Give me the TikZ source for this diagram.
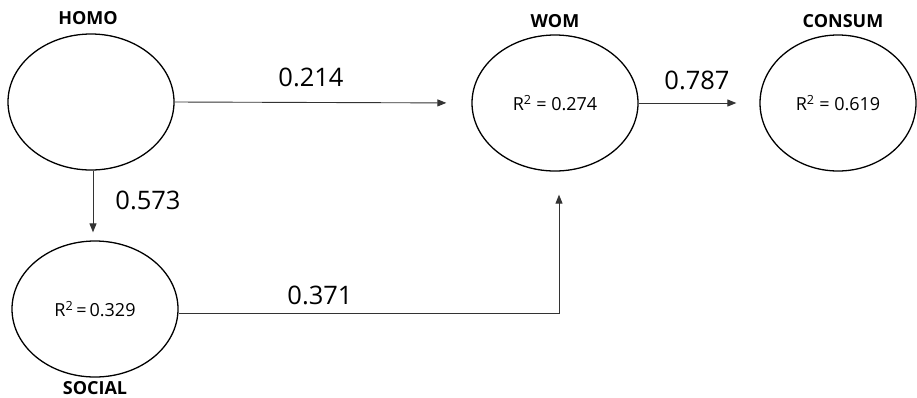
\documentclass[tikz,border=0pt]{standalone}
\usepackage{fontspec}
\setmainfont{Open Sans}
\usetikzlibrary{arrows.meta,shapes.geometric}
\begin{document}
\begin{tikzpicture}[x=1pt,y=-1pt,
  latent/.style={ellipse,draw,line width=1.3pt,minimum width=166pt,minimum height=136pt,inner sep=0pt,font=\fontsize{18}{20}\selectfont},
  title/.style={font=\fontsize{18}{20}\bfseries\selectfont},
  coef/.style={font=\fontsize{25.5}{28}\selectfont},
  path/.style={draw=black!80,line width=0.9pt,-{Triangle[length=9pt,width=7pt]}}]
\useasboundingbox (0,0) rectangle (917,397);
% latent variables
\node[latent] (homo)   at (91,102)  {};
\node[latent] (social) at (95,309)  {R\textsuperscript{2}\,=\,0.329};
\node[latent] (wom)    at (555,103) {R\textsuperscript{2} = 0.274};
\node[latent,minimum width=156pt] (consum) at (838,103) {R\textsuperscript{2} = 0.619};
% variable names
\node[title] (homoT)   at (88,18)  {HOMO};
\node[title] (socialT) at (95,388) {SOCIAL};
\node[title] (womT)    at (555,21) {WOM};
\node[title] (consumT) at (843,21) {CONSUM};
% structural paths
\draw[path,shorten >=25pt] (homo.east) -- (wom.west);
\draw[path,shorten >=8pt] ([xshift=2pt]homo.south) -- ([xshift=-2pt]social.north);
\draw[path,shorten >=23pt] ([yshift=-4pt]social.east) -| ([xshift=4pt]wom.south);
\draw[path,shorten >=23pt] (wom.east) -- (consum.west);
% path coefficients
\node[coef] (c1) at (311,77)  {0.214};
\node[coef] (c2) at (148,200) {0.573};
\node[coef] (c3) at (320,295) {0.371};
\node[coef] (c4) at (697,80)  {0.787};
\end{tikzpicture}
\end{document}
